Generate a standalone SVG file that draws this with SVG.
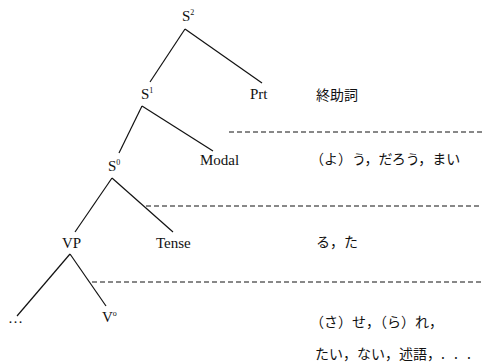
<svg xmlns="http://www.w3.org/2000/svg" width="482" height="363" viewBox="0 0 482 363">
<style>
.lab{font-family:"Liberation Serif","Times New Roman",serif;font-size:15px;fill:#111}
.sup{font-size:8px}
.jp{font-family:"Noto Sans CJK JP","Noto Sans CJK SC",sans-serif;font-size:14px;fill:#111}
.edge{stroke:#111;stroke-width:1.2;fill:none}
.dash{stroke:#111;stroke-width:1;stroke-dasharray:5 3;fill:none}
</style>
<rect width="482" height="363" fill="#fff"/>
<g id="connectors">
<line class="edge" x1="185" y1="29" x2="150" y2="82"/>
<line class="edge" x1="185" y1="29" x2="262" y2="83"/>
<line class="edge" x1="142" y1="106" x2="119" y2="153"/>
<line class="edge" x1="142" y1="106" x2="213" y2="151"/>
<line class="edge" x1="112" y1="178" x2="75" y2="232"/>
<line class="edge" x1="112" y1="178" x2="173" y2="232"/>
<line class="edge" x1="70" y1="254" x2="17" y2="316"/>
<line class="edge" x1="70" y1="254" x2="106" y2="306"/>
</g>
<g id="dividers">
<line class="dash" x1="229" y1="132" x2="482" y2="132"/>
<line class="dash" x1="146" y1="206" x2="482" y2="206"/>
<line class="dash" x1="92" y1="282" x2="482" y2="282"/>
</g>
<g id="S2"><text class="lab" x="182" y="21">S<tspan class="sup" dy="-6">2</tspan></text></g>
<g id="S1"><text class="lab" x="141" y="99">S<tspan class="sup" dy="-6">1</tspan></text></g>
<g id="Prt"><text class="lab" x="250" y="99">Prt</text></g>
<g id="S0"><text class="lab" x="108" y="171">S<tspan class="sup" dy="-6">0</tspan></text></g>
<g id="Modal"><text class="lab" x="200" y="165">Modal</text></g>
<g id="VP"><text class="lab" x="62" y="248">VP</text></g>
<g id="Tense"><text class="lab" x="156" y="248">Tense</text></g>
<g id="dots"><text class="lab" x="8" y="323">…</text></g>
<g id="V0"><text class="lab" x="102" y="322">V<tspan class="sup" dy="-6">o</tspan></text></g>
<g id="t1"><text class="jp" x="316" y="100">終助詞</text></g>
<g id="t2"><text class="jp" x="310" y="164">（よ）う，だろう，まい</text></g>
<g id="t3"><text class="jp" x="316" y="247">る，た</text></g>
<g id="t4"><text class="jp" x="310" y="327">（さ）せ，（ら）れ，</text></g>
<g id="t5"><text class="jp" x="315" y="359">たい，ない，述語，<tspan letter-spacing="3">. . .</tspan></text></g>
</svg>
